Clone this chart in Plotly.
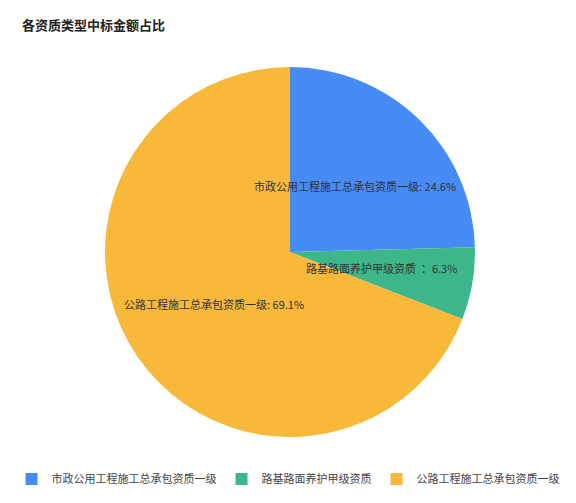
import math
import plotly.graph_objects as go

# --- data ---
categories = ['市政公用工程施工总承包资质一级', '路基路面养护甲级资质', '公路工程施工总承包资质一级']
label_names = ['市政公用工程施工总承包资质一级', '路基路面养护甲级资质  ', '公路工程施工总承包资质一级']
shares = [24.6, 6.3, 69.1]
colors = ['#478BF7', '#3DB68A', '#F8B93A']

# page body adds an 8px margin, so the figure is drawn 8px smaller and positions are shifted
OFF = 8
W, H = 576 - OFF, 503 - OFF
CX, CY, R = 290 - OFF, 252 - OFF, 185  # pie centre / radius in px
FONT = 'Noto Sans CJK SC'

fig = go.Figure(go.Pie(
    labels=categories,
    values=shares,
    marker=dict(colors=colors, line=dict(width=0)),
    sort=False,
    direction='clockwise',
    rotation=0,
    textinfo='none',
    hoverinfo='label+percent',
    domain=dict(x=[(CX - R) / W, (CX + R) / W],
                y=[1 - (CY + R) / H, 1 - (CY - R) / H]),
))

# labels sit at half radius on each slice's middle angle
total = sum(shares)
acc = 0
for name, v in zip(label_names, shares):
    mid = (acc + v / 2) / total * 2 * math.pi
    acc += v
    px_x = CX + 0.5 * R * math.sin(mid)
    px_y = CY - 0.5 * R * math.cos(mid)
    sep = '：' if name.endswith(' ') else ': '
    fig.add_annotation(
        x=px_x / W, y=1 - px_y / H, xref='paper', yref='paper',
        text=f'{name}{sep}{v:.1f}%', showarrow=False,
        font=dict(size=11, color='#333333', family=FONT),
        xanchor='center', yanchor='middle',
    )

fig.update_layout(
    width=W, height=H,
    margin=dict(l=0, r=0, t=0, b=0),
    paper_bgcolor='white',
    font=dict(family=FONT, color='#333333'),
    title=dict(text='<b>各资质类型中标金额占比</b>', x=(22 - OFF) / W, xanchor='left',
               y=1 - (25 - OFF) / H, yanchor='middle',
               font=dict(size=13, color='#222222', family=FONT)),
    legend=dict(orientation='h', x=(288 - OFF) / W, xanchor='center',
                y=1 - (479 - OFF) / H, yanchor='middle',
                font=dict(size=11, color='#444444'), itemsizing='constant',
                traceorder='normal'),
)

fig.write_html("out.html")
